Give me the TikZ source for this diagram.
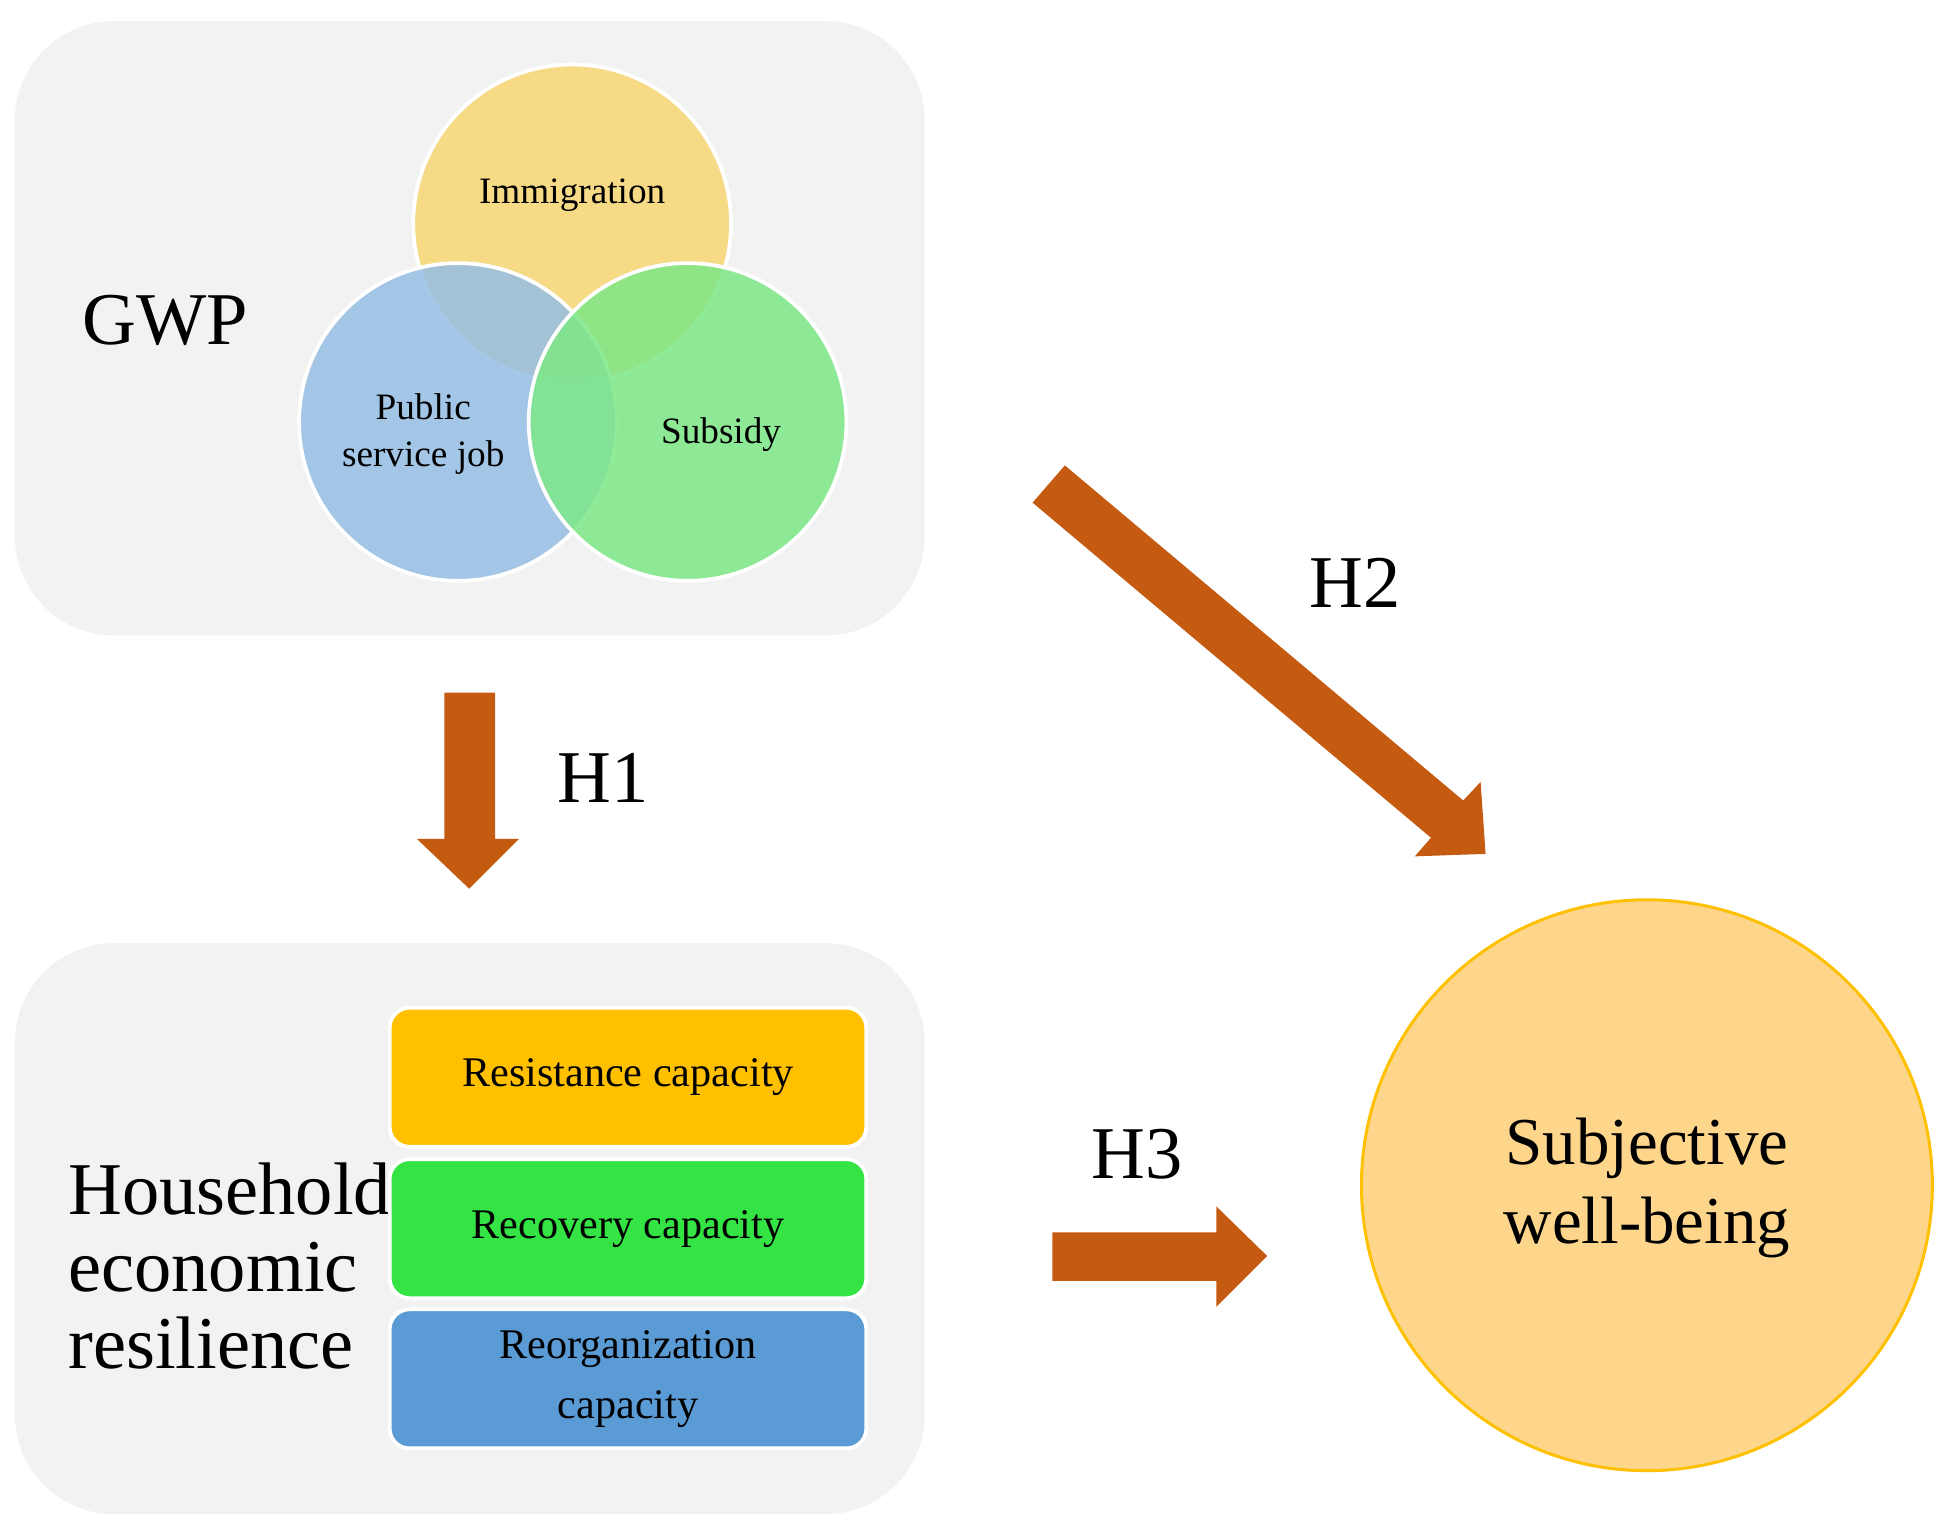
\documentclass[tikz,border=0pt]{standalone}
\usepackage{fontspec}
\setmainfont{Liberation Serif}
\begin{document}
\begin{tikzpicture}[x=0.5pt,y=-0.5pt,
  panel/.style={fill=black!5,draw=none,rounded corners=40pt},
  venn/.style={draw=white,line width=1.5pt,fill opacity=0.85},
  capbox/.style={draw=white,line width=1.5pt,rounded corners=8pt,minimum width=192pt,minimum height=56pt,font=\fontsize{17}{20}\selectfont,align=center},
  arr/.style={fill=arrowc},
  big/.style={font=\fontsize{30}{31}\selectfont}]
\definecolor{arrowc}{HTML}{C55A11}
\useasboundingbox (0,0) rectangle (1568,1233);
\fill[white] (0,0) rectangle (1568,1233);
\path[panel] (12,17) rectangle (745,512);
\path[panel] (12,760) rectangle (745,1220);
% venn
\path[venn,fill={rgb,255:red,249;green,214;blue,115}] (461,180) circle[radius=128];
\path[venn,fill={rgb,255:red,150;green,190;blue,228}] (369,340) circle[radius=128];
\path[venn,fill={rgb,255:red,125;green,232;blue,135}] (554,340) circle[radius=128];
\node[font=\fontsize{15}{16}\selectfont] (imm) at (461,157) {Immigration};
\node[font=\fontsize{15}{19}\selectfont,align=center] (psj) at (341,350) {Public\\service job};
\node[font=\fontsize{15}{16}\selectfont] (sub) at (581,350) {Subsidy};
\node[big] (gwp) at (133,258) {GWP};
% H1
\fill[arr] (358,558) -- (399,558) -- (399,676) -- (418,676) -- (378,716) -- (336,676) -- (358,676) -- cycle;
\node[big] (h1) at (486,627) {H1};
% H2
\fill[arr] (858,375) -- (1179,645) -- (1193,630) -- (1197,688) -- (1140,690) -- (1153,675) -- (832,405) -- cycle;
\node[big] (h2) at (1092,470) {H2};
% H3
\fill[arr] (848,993) -- (980,993) -- (980,972) -- (1021,1012) -- (980,1053) -- (980,1032) -- (848,1032) -- cycle;
\node[big] (h3) at (916,930) {H3};
% bottom
\node[big,align=left,anchor=west] (her) at (48,1020) {Household\\economic\\resilience};
\node[capbox,fill={rgb,255:red,255;green,192;blue,0}] (res) at (506,868) {Resistance capacity};
\node[capbox,fill={rgb,255:red,51;green,228;blue,68}] (rec) at (506,990) {Recovery capacity};
\node[capbox,fill={rgb,255:red,91;green,155;blue,213},font=\fontsize{17}{24}\selectfont] (reo) at (506,1111) {Reorganization\\capacity};
% SWB
\path[draw={rgb,255:red,255;green,192;blue,0},line width=1.2pt,fill={rgb,255:red,253;green,214;blue,140}] (1327,955) circle[radius=230];
\node[font=\fontsize{27}{32}\selectfont,align=center] (swb) at (1327,957) {Subjective\\well-being};
\end{tikzpicture}
\end{document}
